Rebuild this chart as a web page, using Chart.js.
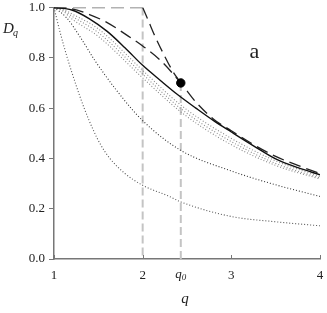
<!DOCTYPE html>
<html><head><meta charset="utf-8">
<script src="https://cdn.jsdelivr.net/npm/chart.js@4"></script>
<style>html,body{margin:0;padding:0;background:#fff;}canvas{display:block;}</style>
</head><body>
<canvas id="c" width="327" height="313"></canvas>
<script>
// ---- data ----
const xTicks = [1, 2, 3, 4];
const yTicks = [0, 0.2, 0.4, 0.6, 0.8, 1.0];
const q0 = 2.43;          // marked q0
const dotD = 0.70;        // black point at q0
const vLine2 = 2;         // grey dashed line at q = 2

const qSolid = [1, 1.2, 1.4, 1.6, 1.8, 2.0, 2.2, 2.4, 2.6, 2.8, 3.0, 3.25, 3.5, 3.75, 4];
const dSolid = [1, 0.99, 0.955, 0.905, 0.84, 0.77, 0.71, 0.652, 0.60, 0.55, 0.505, 0.45, 0.398, 0.363, 0.335];

const qDashB = [1, 1.2, 1.4, 1.6, 1.8, 2.0, 2.2, 2.43, 2.6, 2.8, 3.0, 3.25, 3.5, 3.75, 4];
const dDashB = [1, 0.995, 0.972, 0.94, 0.895, 0.847, 0.79, 0.70, 0.624, 0.556, 0.51, 0.455, 0.408, 0.372, 0.34];

const qDashFlat = [1, 2];
const dDashFlat = [1, 1];
const qDashDrop = [2, 2.06, 2.14, 2.23, 2.34, 2.43];
const dDashDrop = [1, 0.951, 0.885, 0.819, 0.746, 0.70];

const qDot1 = [1, 1.1, 1.2, 1.5, 2.0, 2.43, 2.93, 3.5, 4];
const dDot1 = [1, 0.993, 0.975, 0.915, 0.75, 0.612, 0.494, 0.39, 0.328];
const dDot2 = [1, 0.99, 0.966, 0.90, 0.735, 0.598, 0.481, 0.38, 0.322];
const dDot3 = [1, 0.986, 0.955, 0.885, 0.72, 0.585, 0.468, 0.372, 0.318];

const qDot4 = [1, 1.14, 1.3, 1.46, 1.7, 2.0, 2.43, 3.0, 3.5, 4];
const dDot4 = [1, 0.96, 0.88, 0.79, 0.673, 0.55, 0.432, 0.35, 0.295, 0.249];

const qDot5 = [1, 1.07, 1.15, 1.25, 1.34, 1.44, 1.52, 1.63, 1.8, 2.0, 2.3, 2.43, 3.0, 3.5, 4];
const dDot5 = [1, 0.9, 0.8, 0.69, 0.60, 0.515, 0.458, 0.40, 0.34, 0.293, 0.249, 0.227, 0.169, 0.148, 0.132];

// ---- build ----
const pts = (xs, ys) => xs.map((x, i) => ({ x: x, y: ys[i] }));
const SERIF = "'Liberation Serif', 'Times New Roman', serif";

function lineDs(xs, ys, color, width, dash, mode) {
  return {
    data: pts(xs, ys), borderColor: color, borderWidth: width, borderDash: dash,
    pointRadius: 0, fill: false,
    cubicInterpolationMode: mode === 'straight' ? 'default' : 'monotone',
    tension: mode === 'straight' ? 0 : 0.4
  };
}

const datasets = [
  { data: [{ x: q0, y: dotD }], showLine: false, pointRadius: 4.2, pointBackgroundColor: '#000', pointBorderColor: '#000', borderColor: '#000' },
  lineDs(qSolid, dSolid, '#111', 1.4, [], 'curve'),
  lineDs(qDashB, dDashB, '#222', 1.3, [12, 6], 'curve'),
  lineDs(qDashFlat, dDashFlat, '#666', 1.6, [13, 6], 'straight'),
  lineDs(qDashDrop, dDashDrop, '#222', 1.3, [12, 6], 'curve'),
  lineDs(qDot1, dDot1, '#8a8a8a', 1.1, [1, 2], 'curve'),
  lineDs(qDot1, dDot2, '#8a8a8a', 1.1, [1, 2], 'curve'),
  lineDs(qDot1, dDot3, '#8a8a8a', 1.1, [1, 2], 'curve'),
  lineDs(qDot4, dDot4, '#333', 1.1, [1, 2], 'curve'),
  lineDs(qDot5, dDot5, '#555', 1.1, [1, 2], 'curve'),
  lineDs([vLine2, vLine2], [1, 0], '#c4c4c4', 2, [8, 4], 'straight'),
  lineDs([q0, q0], [dotD, 0], '#c4c4c4', 2, [8, 4], 'straight')
];

const annot = {
  id: 'annot',
  afterDraw(chart) {
    const ctx = chart.ctx, xs = chart.scales.x, ys = chart.scales.y;
    ctx.save();
    // inward x tick marks
    ctx.strokeStyle = '#777'; ctx.lineWidth = 1;
    xTicks.forEach(v => {
      const px = Math.round(xs.getPixelForValue(v)) + 0.5;
      ctx.beginPath(); ctx.moveTo(px, ys.bottom); ctx.lineTo(px, ys.bottom - 4); ctx.stroke();
    });
    ctx.fillStyle = '#222';
    ctx.textBaseline = 'alphabetic';
    // q0 label
    const qx = xs.getPixelForValue(q0);
    ctx.font = 'italic 13px ' + SERIF;
    ctx.textAlign = 'right';
    ctx.fillText('q', qx + 1, ys.bottom + 19);
    ctx.font = 'italic 9px ' + SERIF;
    ctx.textAlign = 'left';
    ctx.fillText('0', qx + 1, ys.bottom + 21);
    // axis title q
    ctx.font = 'italic 15px ' + SERIF;
    ctx.textAlign = 'center';
    ctx.fillText('q', (xs.left + xs.right) / 2 - 2, ys.bottom + 44);
    // D_q
    ctx.font = 'italic 15px ' + SERIF;
    ctx.textAlign = 'left';
    ctx.fillText('D', 3, 33);
    ctx.font = 'italic 10px ' + SERIF;
    ctx.fillText('q', 13, 36);
    // panel letter
    ctx.font = '22px ' + SERIF;
    ctx.textAlign = 'center';
    ctx.fillText('a', xs.getPixelForValue(3.26), ys.getPixelForValue(0.80));
    ctx.restore();
  }
};

new Chart(document.getElementById('c'), {
  type: 'line',
  data: { datasets },
  plugins: [annot],
  options: {
    responsive: false, animation: false, devicePixelRatio: 1,
    layout: { padding: { top: 7.5, right: 7, left: 0, bottom: 0 } },
    plugins: { legend: { display: false }, tooltip: { enabled: false } },
    scales: {
      x: {
        type: 'linear', min: 1, max: 4,
        afterBuildTicks: s => { s.ticks = xTicks.map(v => ({ value: v })); },
        afterFit: s => { s.height = 54; s.paddingLeft = 0; s.paddingRight = 0; },
        grid: { display: false },
        border: { color: '#777', width: 1.5 },
        ticks: { padding: 1, color: '#222', font: { family: SERIF, size: 13 }, maxRotation: 0 }
      },
      y: {
        type: 'linear', min: 0, max: 1,
        afterBuildTicks: s => { s.ticks = yTicks.map(v => ({ value: v })); },
        afterFit: s => { s.width = 54; s.paddingTop = 0; s.paddingBottom = 0; },
        grid: { drawOnChartArea: false, tickLength: 5, color: '#777', lineWidth: 1 },
        border: { color: '#777', width: 1.5 },
        ticks: { padding: 4, color: '#222', font: { family: SERIF, size: 13 }, callback: v => v.toFixed(1) }
      }
    }
  }
});
</script>
</body></html>
